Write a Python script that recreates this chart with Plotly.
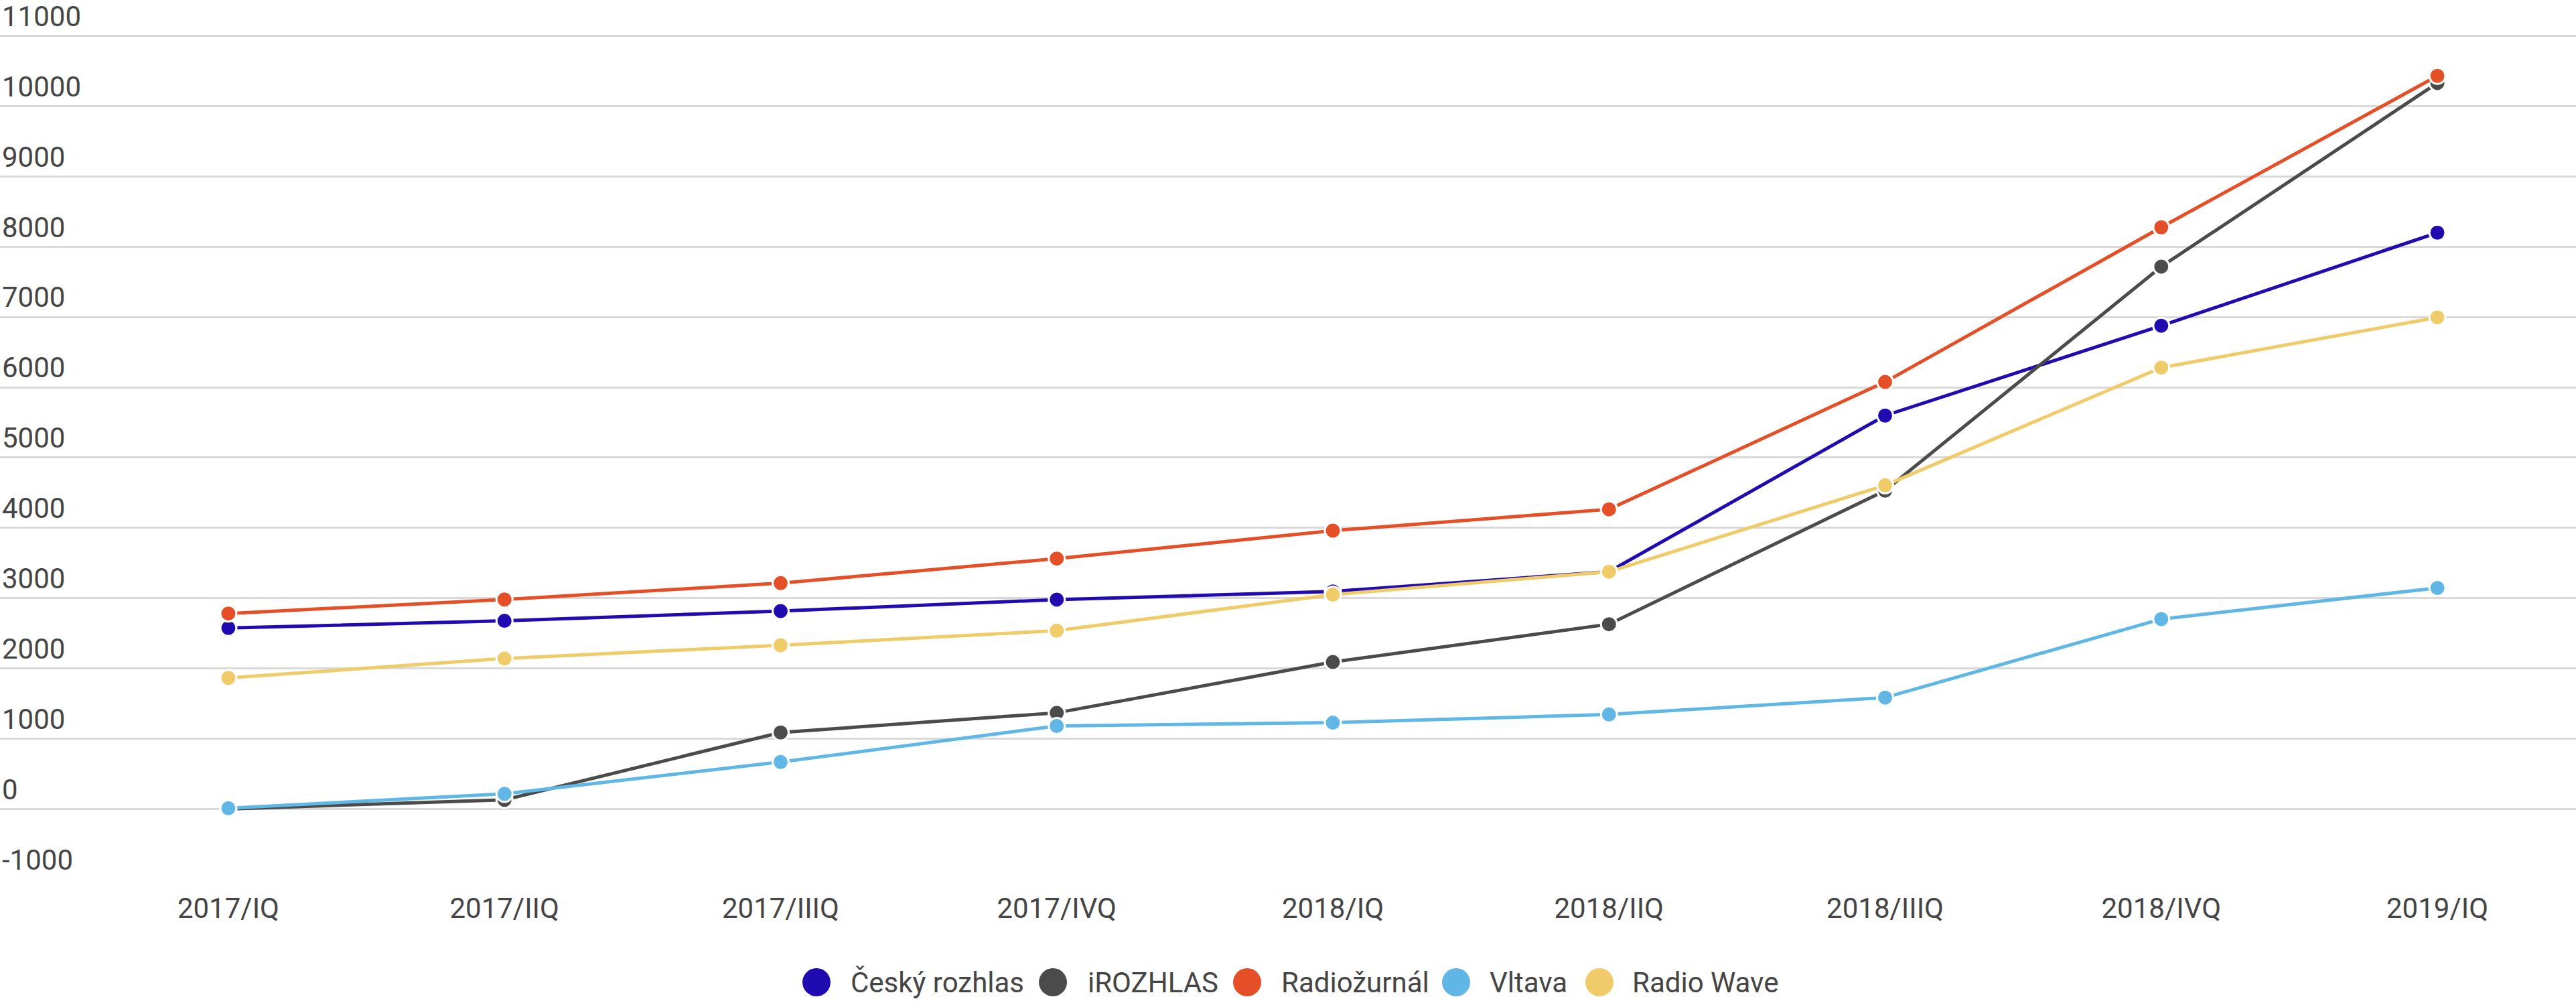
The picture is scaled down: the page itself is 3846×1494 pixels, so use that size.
import plotly.graph_objects as go

quarters = ["2017/IQ", "2017/IIQ", "2017/IIIQ", "2017/IVQ", "2018/IQ",
            "2018/IIQ", "2018/IIIQ", "2018/IVQ", "2019/IQ"]

cesky_rozhlas = [2575, 2677, 2816, 2979, 3096, 3376, 5598, 6876, 8200]
irozhlas = [0, 130, 1088, 1368, 2091, 2629, 4530, 7717, 10330]
radiozurnal = [2781, 2981, 3213, 3563, 3960, 4264, 6076, 8277, 10431]
vltava = [10, 215, 668, 1181, 1228, 1345, 1585, 2702, 3145]
radio_wave = [1865, 2141, 2330, 2537, 3050, 3376, 4605, 6280, 6995]

y_ticks = [-1000, 0, 1000, 2000, 3000, 4000, 5000, 6000, 7000, 8000, 9000, 10000, 11000]
y_tick_labels = ["-1000", "0", "1000", "2000", "3000", "4000", "5000", "6000",
                 "7000", "8000", "9000", "10000", "11000"]

series_names = ["Český rozhlas", "iROZHLAS", "Radiožurnál", "Vltava", "Radio Wave"]
series_values = [cesky_rozhlas, irozhlas, radiozurnal, vltava, radio_wave]
colors = ["#200bb0", "#4b4b4b", "#e44f27", "#60b7e5", "#f0cb6a"]

W, H = 3846, 1494
FONT = "Roboto"
TXT = "#454545"

fig = go.Figure()
for name, vals, col in zip(series_names, series_values, colors):
    fig.add_trace(go.Scatter(
        x=quarters, y=vals, name=name, mode="lines+markers",
        line=dict(color=col, width=5),
        marker=dict(color=col, size=24, line=dict(color="white", width=3)),
        showlegend=False,
    ))

# custom legend (large circles)
legend_circle_px = [1219, 1572, 1862, 2174, 2388]
legend_text_px = [1268, 1622, 1911, 2222, 2435]
legend_shift = -153
shapes = []
annotations = []
for name, col, cx, tx in zip(series_names, colors, legend_circle_px, legend_text_px):
    shapes.append(dict(
        type="circle", xref="paper", yref="paper",
        xsizemode="pixel", ysizemode="pixel",
        xanchor=cx / W, yanchor=0,
        x0=-21, x1=21, y0=legend_shift - 21, y1=legend_shift + 21,
        fillcolor=col, line=dict(width=0),
    ))
    annotations.append(dict(
        text=name, xref="paper", yref="paper", x=tx / W, y=0,
        xanchor="left", yanchor="middle", yshift=legend_shift,
        showarrow=False, font=dict(family=FONT, size=42, color=TXT),
    ))

fig.update_layout(
    width=W, height=H,
    margin=dict(l=0, r=0, t=0, b=181),
    plot_bgcolor="white", paper_bgcolor="white",
    font=dict(family=FONT, size=42, color=TXT),
    shapes=shapes, annotations=annotations,
    showlegend=False,
    xaxis=dict(
        type="category", range=[-0.827, 8.502],
        showgrid=False, zeroline=False, showline=False,
        ticks="", ticklabelstandoff=14,
        tickfont=dict(family=FONT, size=42, color=TXT),
    ),
    yaxis=dict(
        range=[-1007, 11492], tickmode="array",
        tickvals=y_ticks, ticktext=y_tick_labels,
        showgrid=True, gridcolor="#d9d9d9", gridwidth=3,
        zeroline=False, showline=False, ticks="",
        ticklabelposition="inside top", ticklabeloverflow="allow",
        tickfont=dict(family=FONT, size=42, color=TXT),
    ),
)

fig.write_html("out.html", config={"displayModeBar": False},
               post_script="document.body.style.margin='0px';")
